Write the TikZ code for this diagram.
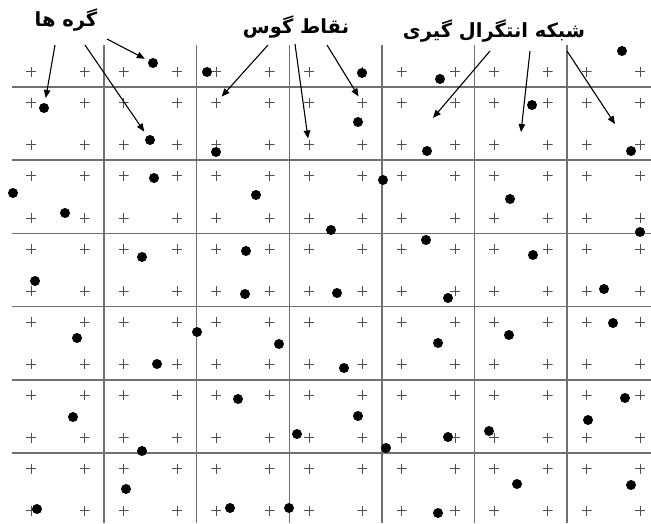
\documentclass[tikz,border=0pt]{standalone}
\usepackage{fontspec}
\usepackage{tikz}
\usetikzlibrary{arrows.meta,positioning,calc}
\newfontfamily\farsi[Script=Arabic]{DejaVu Sans}
\TeXXeTstate=1
\definecolor{GridGray}{HTML}{707070}
\definecolor{PlusGray}{HTML}{505050}

\begin{document}
\begin{tikzpicture}[
    x=1pt, y=-1pt,
    gridline/.style={draw=GridGray, line width=1.5pt},
    gauss/.style={inner sep=0pt, minimum size=10pt, path picture={\draw[PlusGray, line width=0.7pt] (path picture bounding box.north) -- (path picture bounding box.south) (path picture bounding box.west) -- (path picture bounding box.east);}},
    dot/.style={circle, fill=black, inner sep=0pt, minimum size=10pt},
    lbl/.style={inner sep=0pt, font=\farsi\bfseries\fontsize{19.5}{22}\selectfont},
    arrow/.style={-{Triangle[length=8pt, width=6.5pt]}, line width=1.1pt}
]
\useasboundingbox (0,0) rectangle (651,523);

% integration grid
\foreach \vx in {104.1,196.7,289.3,381.9,474.5,567.1}
    \draw[gridline] (\vx,45) -- (\vx,523);
\foreach \hy in {87,160.2,233.4,306.6,379.8,453}
    \draw[gridline] (12,\hy) -- (651,\hy);

% gauss points
\foreach \gx [count=\i] in {31.1,84.5,123.7,177.1,216.3,269.7,308.9,362.3,401.5,454.9,494.1,547.5,586.7,640.1} {
    \foreach \gy [count=\j] in {71.5,102.5,144.7,175.7,217.9,248.9,291.1,322.1,364.3,395.3,437.5,468.5,510.7} {
        \node[gauss] (g-\i-\j) at (\gx,\gy) {};
    }
}

% nodes
\foreach \dx/\dy [count=\k] in {153/63,207/72,44/108,150/140,216/152,362/73,440/79,622/51,358/122,532/105,427/151,631/151,
    154/178,13/193,256/195,65/213,331/230,142/257,246/251,35/281,245/294,197/332,77/338,
    383/180,510/199,640/232,426/240,533/255,337/293,448/298,604/289,613/323,509/335,438/343,
    279/344,157/364,238/399,73/417,297/434,142/451,126/489,37/509,230/508,289/508,
    344/368,358/416,625/398,588/420,448/437,489/431,386/448,517/484,631/485,438/513}
    \node[dot] (d\k) at (\dx,\dy) {};

% labels
\node[lbl] (nodes) at (66,20) {\beginR گره ها\endR};
\node[lbl] (gp) at (296,27) {\beginR نقاط گوس\endR};
\node[lbl] (mesh) at (494,31) {\beginR شبکه انتگرال گیری\endR};

\coordinate (c1) at (433,118);
\coordinate (c2) at (521,132);
\coordinate (c3) at (615,124);

\draw[arrow, shorten >=5pt] ($(nodes.center)+(-11,25)$) -- (d3);
\draw[arrow, shorten >=5pt] ($(nodes.center)+(19,25)$) -- (d4);
\draw[arrow, shorten >=4pt] ($(nodes.center)+(41,19)$) -- (d1);
\draw[arrow, shorten >=1pt] ($(gp.center)+(-28,18)$) -- (g-5-2);
\draw[arrow, shorten >=1pt] ($(gp.center)+(-1,17)$) -- (g-7-3);
\draw[arrow, shorten >=1pt] ($(gp.center)+(31,18)$) -- (g-8-2);
\draw[arrow] ($(mesh.center)+(-4,20)$) -- (c1);
\draw[arrow] ($(mesh.center)+(36,20)$) -- (c2);
\draw[arrow] ($(mesh.center)+(73,20)$) -- (c3);
\end{tikzpicture}
\end{document}
